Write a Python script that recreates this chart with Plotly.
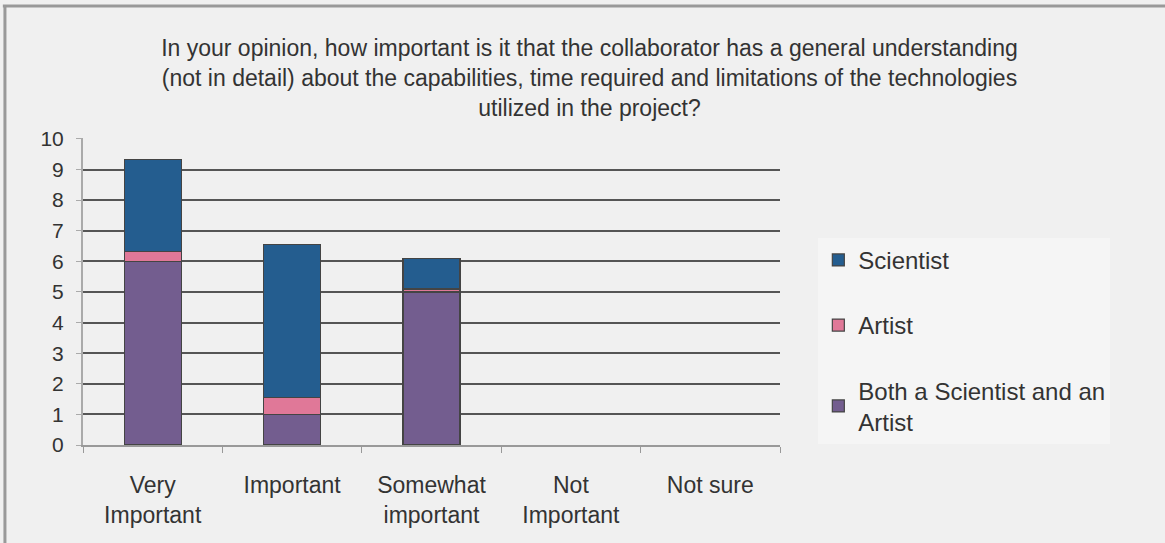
import plotly.graph_objects as go

categories = ["Very<br>Important", "Important", "Somewhat<br>important", "Not<br>Important", "Not sure"]
both = [6.0, 1.0, 5.0, 0, 0]
artist = [0.33, 0.55, 0.1, 0, 0]
scientist = [3.0, 5.0, 1.0, 0, 0]
y_ticks = list(range(0, 11))


def outline(vals):
    return dict(color="#444444", width=[1.2 if v > 0 else 0 for v in vals])


fig = go.Figure()
fig.add_trace(go.Bar(x=categories, y=both, name="Both a Scientist and an<br>Artist",
                     marker=dict(color="#735d8f", line=outline(both)), legendrank=3, legendgroup="c"))
fig.add_trace(go.Bar(x=categories, y=artist, name="Artist",
                     marker=dict(color="#e07898", line=outline(artist)), legendrank=2, legendgroup="b"))
fig.add_trace(go.Bar(x=categories, y=scientist, name="Scientist",
                     marker=dict(color="#245d8f", line=outline(scientist)), legendrank=1, legendgroup="a"))

fig.update_layout(
    width=1165, height=543,
    barmode="stack", bargap=0.59,
    paper_bgcolor="#f0f0f0", plot_bgcolor="#f0f0f0",
    margin=dict(l=83, r=385, t=138, b=98),
    font=dict(family="Liberation Sans, Arial, sans-serif", size=20, color="#333333"),
    title=dict(
        text="In your opinion, how important is it that the collaborator has a general understanding<br>(not in detail) about the capabilities, time required and limitations of the technologies<br>utilized in the project?",
        x=0.506, xanchor="center", y=0.897, yanchor="top",
        font=dict(size=23, color="#333333"),
    ),
    legend=dict(
        x=1.055, xanchor="left", y=0.675, yanchor="top",
        bgcolor="#f5f5f5", traceorder="grouped", tracegroupgap=31,
        font=dict(size=24, color="#333333"),
        itemwidth=30,
    ),
    xaxis=dict(
        showline=True, linecolor="#999999", linewidth=2,
        ticks="outside", tickson="boundaries", ticklen=6, tickcolor="#999999",
        tickfont=dict(size=23, color="#333333"), ticklabelstandoff=18,
    ),
    yaxis=dict(
        range=[0, 10.03], tickvals=y_ticks, showgrid=True, gridcolor="#555555", gridwidth=1.5,
        showline=True, linecolor="#aaaaaa", linewidth=2,
        ticks="outside", ticklen=5, tickcolor="#aaaaaa", ticklabelstandoff=8,
        tickfont=dict(size=21, color="#333333"), zeroline=False,
    ),
    shapes=[
        dict(type="line", xref="paper", yref="paper", x0=-0.115, x1=1.6, y0=1.43, y1=1.43,
             line=dict(color="#999999", width=3)),
        dict(type="line", xref="paper", yref="paper", x0=-0.112, x1=-0.112, y0=1.43, y1=-0.35,
             line=dict(color="#999999", width=3)),
    ],
)

fig.write_html("out.html")
